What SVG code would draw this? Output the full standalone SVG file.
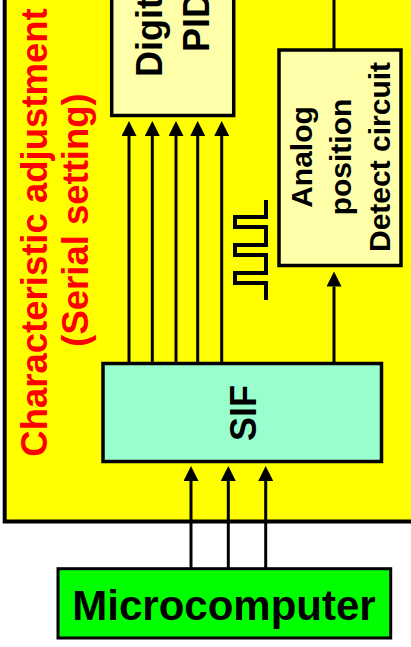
<svg xmlns="http://www.w3.org/2000/svg" width="411" height="647" viewBox="0 0 411 647">
<style>
.box{stroke:#000;stroke-width:3.5}
.lbl{font-family:"Liberation Sans",Arial,sans-serif;font-weight:bold;fill:#000;text-anchor:middle}
.title{font-family:"Liberation Sans",Arial,sans-serif;font-weight:bold;fill:#FF0000;text-anchor:middle;font-size:36.5px}
.wire{stroke:#000;stroke-width:3;fill:none}
</style>
<defs>
<marker id="ah" markerUnits="userSpaceOnUse" markerWidth="15" markerHeight="15" viewBox="0 0 15 15" refX="0" refY="7.5" orient="auto">
<path d="M0,0 L15,7.5 L0,15 z" fill="#000"/>
</marker>
</defs>
<rect width="411" height="647" fill="#fff"/>
<g id="board">
<rect x="4.7" y="-10" width="430" height="531.5" fill="#FFFF00" stroke="#000" stroke-width="4"/>
<text class="title" transform="translate(47,232.5) rotate(-90)">Characteristic adjustment</text>
<text class="title" transform="translate(87.5,220) rotate(-90)">(Serial setting)</text>
</g>
<g id="pid">
<rect class="box" x="111.7" y="-80" width="122" height="195.5" fill="#FFFFAA"/>
<text class="lbl" font-size="36" transform="translate(162,22) rotate(-90)">Digital</text>
<text class="lbl" font-size="36" transform="translate(209,22) rotate(-90)">PID</text>
</g>
<g id="analog">
<rect class="box" x="279" y="50" width="122" height="215.5" fill="#FFFFAA"/>
<text class="lbl" font-size="30" transform="translate(312,157) rotate(-90)">Analog</text>
<text class="lbl" font-size="30" transform="translate(351,157) rotate(-90)">position</text>
<text class="lbl" font-size="30" transform="translate(390,157) rotate(-90)">Detect circuit</text>
</g>
<g id="sif">
<rect class="box" x="103" y="363.5" width="278.5" height="98" fill="#99FFCC"/>
<text class="lbl" font-size="36" transform="translate(255.5,413) rotate(-90)">SIF</text>
</g>
<g id="micro">
<rect x="58" y="568.7" width="332.7" height="69.3" fill="#00FF00" stroke="#000" stroke-width="3"/>
<text class="lbl" font-size="42" x="224" y="620">Microcomputer</text>
</g>
<g id="connectors">
<line class="wire" x1="129" y1="362" x2="129" y2="136" marker-end="url(#ah)"/>
<line class="wire" x1="152.3" y1="362" x2="152.3" y2="136" marker-end="url(#ah)"/>
<line class="wire" x1="176" y1="362" x2="176" y2="136" marker-end="url(#ah)"/>
<line class="wire" x1="197.7" y1="362" x2="197.7" y2="136" marker-end="url(#ah)"/>
<line class="wire" x1="221.7" y1="362" x2="221.7" y2="136" marker-end="url(#ah)"/>
<line class="wire" x1="334" y1="362" x2="334" y2="286.5" marker-end="url(#ah)"/>
<line class="wire" x1="334" y1="0" x2="334" y2="49"/>
<line class="wire" x1="191" y1="568" x2="191" y2="481" marker-end="url(#ah)"/>
<line class="wire" x1="228.3" y1="568" x2="228.3" y2="481" marker-end="url(#ah)"/>
<line class="wire" x1="265.7" y1="568" x2="265.7" y2="481" marker-end="url(#ah)"/>
<polyline fill="none" stroke="#000" stroke-width="4" points="266,200 266,217 235,217 235,227 266,227 266,245 235,245 235,255 266,255 266,273 235,273 235,283 266,283 266,300"/>
</g>
</svg>
